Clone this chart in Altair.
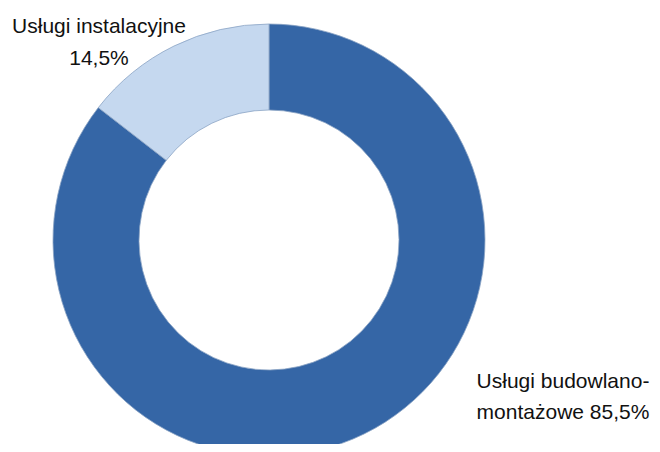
import altair as alt
import pandas as pd

categories = ["Usługi budowlano-montażowe", "Usługi instalacyjne"]
shares = [85.5, 14.5]
colors = ["#3566A6", "#C5D8EF"]
label_lines = [["Usługi budowlano-", "montażowe 85,5%"], ["Usługi instalacyjne", "14,5%"]]

df = pd.DataFrame({
    "kategoria": categories,
    "udzial": shares,
    "kolejnosc": list(range(len(categories))),
})

donut = alt.Chart(df).mark_arc(
    radius=216, radius2=130, stroke="#8aa3c4", strokeWidth=0.8
).encode(
    theta=alt.Theta("udzial:Q", stack=True),
    order=alt.Order("kolejnosc:Q"),
    color=alt.Color("kategoria:N", scale=alt.Scale(domain=categories, range=colors), legend=None),
    x=alt.value(261),
    y=alt.value(232),
)

lab_df = pd.DataFrame({
    "tekst": ["\n".join(l) for l in label_lines],
    "kategoria": categories,
})

lab1 = alt.Chart(lab_df[lab_df["kategoria"] == categories[0]]).mark_text(
    font="Liberation Sans", fontSize=21, align="center", baseline="alphabetic",
    lineBreak="\n", lineHeight=31, color="#111111"
).encode(text="tekst:N", x=alt.value(555), y=alt.value(380))

lab2 = alt.Chart(lab_df[lab_df["kategoria"] == categories[1]]).mark_text(
    font="Liberation Sans", fontSize=21, align="center", baseline="alphabetic",
    lineBreak="\n", lineHeight=32, color="#111111"
).encode(text="tekst:N", x=alt.value(91), y=alt.value(25))

chart = alt.layer(donut, lab1, lab2).properties(
    width=644, height=436, padding=0, autosize=alt.AutoSizeParams(type="none")
).configure_view(stroke=None)

chart.save("out.html", embed_options={"renderer": "svg", "actions": False})
